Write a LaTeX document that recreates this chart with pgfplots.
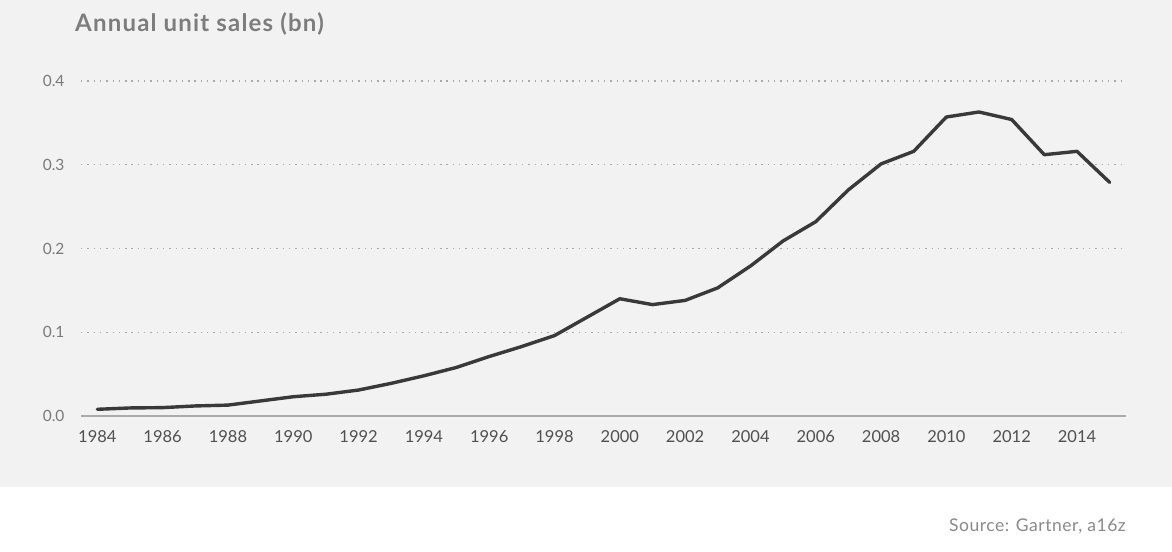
\documentclass[border=0pt]{standalone}
\usepackage{fontspec}
\setmainfont{Lato}
\usepackage{pgfplots}
\pgfplotsset{compat=1.18}
\definecolor{bg}{HTML}{F2F2F2}
\definecolor{linec}{HTML}{393939}
\definecolor{gridc}{HTML}{A8A8A8}
\definecolor{axc}{HTML}{ABABAB}
\definecolor{ylab}{HTML}{7A7A7A}
\definecolor{xlab}{HTML}{505050}
\definecolor{titc}{HTML}{7D7D7D}
\definecolor{srcc}{HTML}{8A8A8A}
\begin{document}
\begin{tikzpicture}
\fill[white] (0bp,0bp) rectangle (1172bp,552bp);
\fill[bg] (0bp,65bp) rectangle (1172bp,552bp);
\begin{axis}[
  at={(81bp,136bp)}, anchor=south west, scale only axis,
  width=1045bp, height=335bp,
  xmin=1983.5, xmax=2015.5, ymin=0, ymax=0.4,
  clip=false,
  separate axis lines,
  axis x line*=bottom, axis y line*=left,
  x axis line style={axc, line width=2bp},
  y axis line style={draw=none},
  major tick length=0pt,
  xtick={1984,1986,...,2014},
  ytick={0,0.1,0.2,0.3,0.4},
  ymajorgrids,
  major grid style={gridc, line width=1.4bp, dash pattern=on 1.4bp off 4.9bp},
  /pgf/number format/assume math mode=true,
  xticklabel style={/pgf/number format/1000 sep={}, font=\fontsize{16.5bp}{19bp}\selectfont, text=xlab, yshift=-11bp},
  yticklabel style={/pgf/number format/.cd, fixed, fixed zerofill, precision=1, /tikz/.cd, font=\fontsize{15.5bp}{18bp}\selectfont, text=ylab, xshift=-13bp},
]
\addplot[linec, line width=3.4bp, line join=round, line cap=round] coordinates {
(1984,0.008) (1985,0.0096) (1986,0.010) (1987,0.012) (1988,0.013)
(1989,0.018) (1990,0.023) (1991,0.026) (1992,0.031) (1993,0.039)
(1994,0.048) (1995,0.058) (1996,0.071) (1997,0.083) (1998,0.096)
(1999,0.118) (2000,0.140) (2001,0.133) (2002,0.138) (2003,0.153)
(2004,0.179) (2005,0.209) (2006,0.232) (2007,0.270) (2008,0.301)
(2009,0.316) (2010,0.357) (2011,0.363) (2012,0.354) (2013,0.312)
(2014,0.316) (2015,0.279)
};
\end{axis}
\node[anchor=base west, inner sep=0pt, text=titc, font=\fontsize{24bp}{28bp}\selectfont\bfseries\addfontfeatures{LetterSpace=5}] at (75bp,520bp) {Annual unit sales (bn)};
\node[anchor=base east, inner sep=0pt, text=srcc, font=\fontsize{17.5bp}{20bp}\selectfont\addfontfeatures{LetterSpace=3}] at (1126bp,21bp) {Source: Gartner, a16z};
\end{tikzpicture}
\end{document}
